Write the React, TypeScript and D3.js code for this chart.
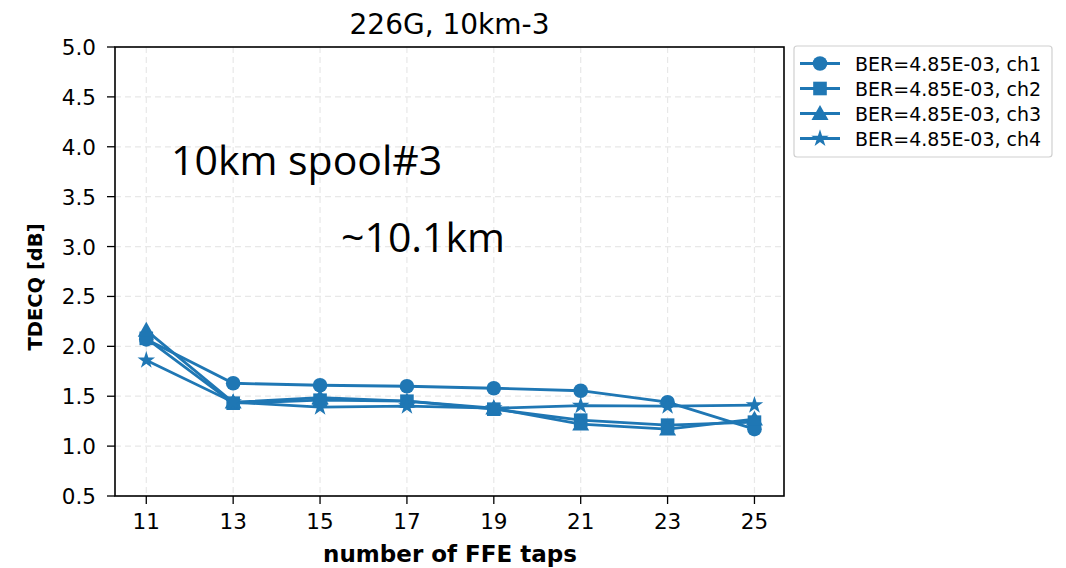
import React from "react";
import * as d3 from "d3";

const taps = [11, 13, 15, 17, 19, 21, 23, 25];
const ch1 = [2.07, 1.63, 1.61, 1.6, 1.58, 1.555, 1.44, 1.17];
const ch2 = [2.08, 1.43, 1.46, 1.45, 1.37, 1.26, 1.21, 1.24];
const ch3 = [2.16, 1.44, 1.485, 1.45, 1.38, 1.22, 1.17, 1.27];
const ch4 = [1.86, 1.44, 1.39, 1.4, 1.38, 1.405, 1.4, 1.41];
const seriesNames = ["BER=4.85E-03, ch1", "BER=4.85E-03, ch2", "BER=4.85E-03, ch3", "BER=4.85E-03, ch4"];
const markers = ["circle", "square", "triangle", "star"];
const yTicks = [0.5, 1.0, 1.5, 2.0, 2.5, 3.0, 3.5, 4.0, 4.5, 5.0];

const COLOR = "#1f77b4";
const FONT = "'DejaVu Sans', sans-serif";

function Marker({ type, x, y, s = 1 }: { type: string; x: number; y: number; s?: number }) {
  if (type === "circle") return <circle cx={x} cy={y} r={7.3 * s} fill={COLOR} />;
  if (type === "square") return <rect x={x - 6.8 * s} y={y - 6.8 * s} width={13.6 * s} height={13.6 * s} fill={COLOR} />;
  if (type === "triangle") {
    const r = 8.5 * s;
    return <path d={`M${x},${y - r} L${x + r},${y + r * 0.75} L${x - r},${y + r * 0.75} Z`} fill={COLOR} />;
  }
  const sym = d3.symbol().type(d3.symbolStar).size(95 * s * s)();
  return <path d={sym || ""} transform={`translate(${x},${y})`} fill={COLOR} />;
}

export default function App() {
  const W = 1066, H = 568;
  const left = 115, right = 784, top = 47, bottom = 496;
  const x = d3.scaleLinear().domain([10.28, 25.68]).range([left, right]);
  const y = d3.scaleLinear().domain([0.5, 5.0]).range([bottom, top]);
  const data = [ch1, ch2, ch3, ch4];
  const line = d3.line<number>().x((_, i) => x(taps[i])).y((d) => y(d));

  return (
    <svg width={W} height={H} style={{ position: "absolute", left: 0, top: 0, background: "#fff" }} fontFamily={FONT}>
      {/* grid */}
      {taps.map((t) => (
        <line key={"gx" + t} x1={x(t)} x2={x(t)} y1={top} y2={bottom} stroke="#e8e8e8" strokeDasharray="6,4" strokeWidth={1.2} />
      ))}
      {yTicks.map((t) => (
        <line key={"gy" + t} x1={left} x2={right} y1={y(t)} y2={y(t)} stroke="#e8e8e8" strokeDasharray="6,4" strokeWidth={1.2} />
      ))}
      {/* series */}
      {data.map((d, si) => (
        <g key={"s" + si}>
          <path d={line(d) || ""} fill="none" stroke={COLOR} strokeWidth={2.8} />
          {d.map((v, i) => (
            <Marker key={i} type={markers[si]} x={x(taps[i])} y={y(v)} />
          ))}
        </g>
      ))}
      {/* frame */}
      <rect x={left} y={top} width={right - left} height={bottom - top} fill="none" stroke="#000" strokeWidth={1.6} />
      {/* x ticks */}
      {taps.map((t) => (
        <g key={"xt" + t}>
          <line x1={x(t)} x2={x(t)} y1={bottom} y2={bottom + 8} stroke="#000" strokeWidth={1.3} />
          <text x={x(t)} y={529} textAnchor="middle" fontSize={21.5} fill="#000">{t}</text>
        </g>
      ))}
      {yTicks.map((t) => (
        <g key={"yt" + t}>
          <line x1={left - 8} x2={left} y1={y(t)} y2={y(t)} stroke="#000" strokeWidth={1.3} />
          <text x={left - 19} y={y(t) + 8} textAnchor="end" fontSize={21.5} fill="#000">{t.toFixed(1)}</text>
        </g>
      ))}
      {/* labels */}
      <text x={(left + right) / 2} y={34} textAnchor="middle" fontSize={28} fill="#000">226G, 10km-3</text>
      <text x={450} y={562} textAnchor="middle" fontSize={23} fontWeight="bold" fill="#000">number of FFE taps</text>
      <text transform={`translate(42,287) rotate(-90)`} textAnchor="middle" fontSize={19.5} fontWeight="bold" fill="#000">TDECQ [dB]</text>
      {/* annotations */}
      <text x={171} y={175} fontSize={41} fontFamily="'Open Sans', 'Liberation Sans', sans-serif" fill="#000">10km spool#3</text>
      <text x={341} y={252} fontSize={41} fontFamily="'Open Sans', 'Liberation Sans', sans-serif" fill="#000">~10.1km</text>
      {/* legend */}
      <rect x={794} y={46} width={258} height={111} rx={3} fill="#fff" stroke="#d0d0d0" strokeWidth={1.2} />
      {seriesNames.map((n, i) => {
        const ly = 63.5 + i * 25;
        return (
          <g key={"lg" + i}>
            <line x1={800} x2={840} y1={ly} y2={ly} stroke={COLOR} strokeWidth={2.8} />
            <Marker type={markers[i]} x={820} y={ly} />
            <text x={855} y={ly + 7} fontSize={19} fill="#000">{n}</text>
          </g>
        );
      })}
    </svg>
  );
}
